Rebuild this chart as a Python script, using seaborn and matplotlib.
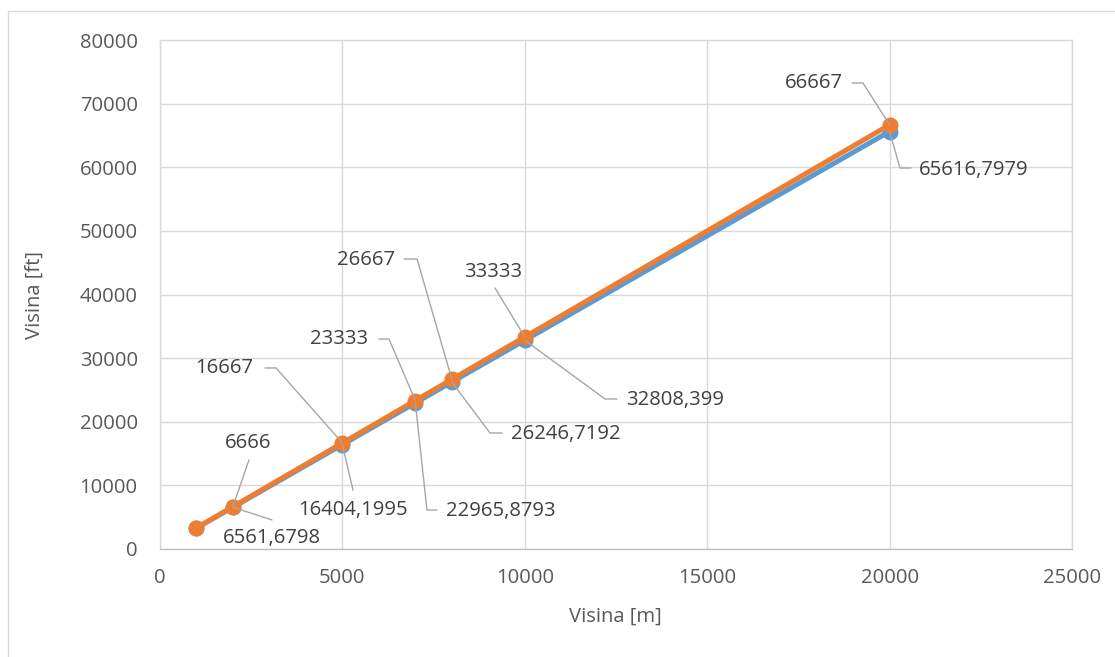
import matplotlib
matplotlib.use("Agg")
import matplotlib.pyplot as plt
import seaborn as sns
import numpy as np
import pandas as pd
from matplotlib.lines import Line2D

# ---------------- data ----------------
visina_m = [1000, 2000, 5000, 7000, 8000, 10000, 20000]
visina_ft_exact = [3280.8399, 6561.6798, 16404.1995, 22965.8793, 26246.7192, 32808.399, 65616.7979]
visina_ft_approx = [3333, 6666, 16667, 23333, 26667, 33333, 66667]
x_ticks = [0, 5000, 10000, 15000, 20000, 25000]
y_ticks = [0, 10000, 20000, 30000, 40000, 50000, 60000, 70000, 80000]
x_title = "Visina [m]"
y_title = "Visina [ft]"

# ---------------- style ----------------
W, H = 1115, 657
sns.set_theme(style="white")
plt.rcParams["font.family"] = ["Open Sans", "DejaVu Sans"]

BLUE = "#5B9BD5"
ORANGE = "#ED7D31"
GRID = "#D9D9D9"
TICKC = "#595959"
LABELC = "#404040"
LEADER = "#A6A6A6"
FS = 14.6

fig = plt.figure(figsize=(W / 100, H / 100), dpi=100)
ax = fig.add_axes([160 / W, 1 - 549 / H, 912 / W, 509 / H])

df = pd.DataFrame({"m": visina_m, "exact": visina_ft_exact, "approx": visina_ft_approx})
sns.lineplot(data=df, x="m", y="exact", ax=ax, color=BLUE, lw=3.6, marker="o",
             markersize=11.5, markeredgewidth=0, zorder=3)
sns.lineplot(data=df, x="m", y="approx", ax=ax, color=ORANGE, lw=3.6, marker="o",
             markersize=11.5, markeredgewidth=0, zorder=4)

ax.set_xlim(0, 25000)
ax.set_ylim(0, 80000)
ax.set_xticks(x_ticks)
ax.set_yticks(y_ticks)
ax.set_xticklabels([str(t) for t in x_ticks])
ax.set_yticklabels([str(t) for t in y_ticks])
ax.grid(True, color=GRID, lw=1.0, zorder=0)
ax.set_axisbelow(True)
ax.tick_params(axis="both", length=0, labelsize=FS, labelcolor=TICKC)
ax.tick_params(axis="y", pad=16)
ax.tick_params(axis="x", pad=14)
for s in ["top", "right"]:
    ax.spines[s].set_color(GRID)
    ax.spines[s].set_linewidth(1.0)
ax.spines["left"].set_color(GRID)
ax.spines["left"].set_linewidth(1.0)
ax.spines["bottom"].set_color("#BFBFBF")
ax.spines["bottom"].set_linewidth(1.0)

ax.set_xlabel(x_title, fontsize=FS, color=TICKC)
ax.set_ylabel(y_title, fontsize=FS, color=TICKC)
ax.xaxis.set_label_coords((615 - 160) / 912, (549 - 617) / 509)
ax.xaxis.label.set_va("center")
ax.yaxis.set_label_coords((35 - 160) / 912, (549 - 295) / 509)
ax.yaxis.label.set_va("center")
ax.set_title("")

# outer chart border (left and top edges)
fig.add_artist(Line2D([8 / W, 1.0], [1 - 11 / H, 1 - 11 / H], color=GRID, lw=1.0,
                      transform=fig.transFigure))
fig.add_artist(Line2D([8 / W, 8 / W], [1 - 11 / H, 0.0], color=GRID, lw=1.0,
                      transform=fig.transFigure))


def fmt_exact(v):
    s = f"{v:.4f}".rstrip("0").rstrip(".")
    return s.replace(".", ",")


# label placement in pixel offsets from the point (dx right, dy down):
# (text_dx, text_dy, ha, [leader path points])
orange_place = {
    1: (15, -63.6, "center", [(16, -46.6)]),
    2: (-89.4, -75, "right", [(-66.4, -75), (-77.4, -75)]),
    3: (-47.4, -61.5, "right", [(-26.4, -61.5), (-36.4, -61.5)]),
    4: (-56.8, -119.3, "right", [(-34.8, -120.3), (-47.8, -120.3)]),
    5: (-31.8, -64.9, "center", [(-29.8, -48.9)]),
    6: (-46.6, -41.8, "right", [(-26.6, -41.8), (-37.6, -41.8)]),
}
blue_place = {
    1: (39, 30.7, "center", [(39, 12.7)]),
    2: (10.6, 65.4, "center", [(10.6, 45.4)]),
    3: (30.6, 108.1, "left", [(11.6, 107.1), (21.6, 107.1)]),
    4: (59.2, 52, "left", [(38.2, 51), (50.2, 51)]),
    5: (101.2, 59.7, "left", [(80.2, 58.7), (92.2, 58.7)]),
    6: (29.4, 38.5, "left", [(10.4, 36.5), (21.4, 36.5)]),
}

inv = ax.transData.inverted()


def add_label(xv, yv, text, place):
    tdx, tdy, ha, path = place
    px, py = ax.transData.transform((xv, yv))
    pts = [(px, py)] + [(px + dx, py - dy) for dx, dy in path]
    data_pts = inv.transform(np.array(pts))
    ax.plot(data_pts[:, 0], data_pts[:, 1], color=LEADER, lw=1.0, zorder=5,
            clip_on=False, solid_joinstyle="miter")
    tx, ty = inv.transform((px + tdx, py - tdy))
    ax.text(tx, ty, text, ha=ha, va="center", fontsize=FS, color=LABELC, zorder=6)


for i, pl in orange_place.items():
    add_label(visina_m[i], visina_ft_approx[i], str(visina_ft_approx[i]), pl)
for i, pl in blue_place.items():
    add_label(visina_m[i], visina_ft_exact[i], fmt_exact(visina_ft_exact[i]), pl)

fig.savefig("out.png", dpi=100)
